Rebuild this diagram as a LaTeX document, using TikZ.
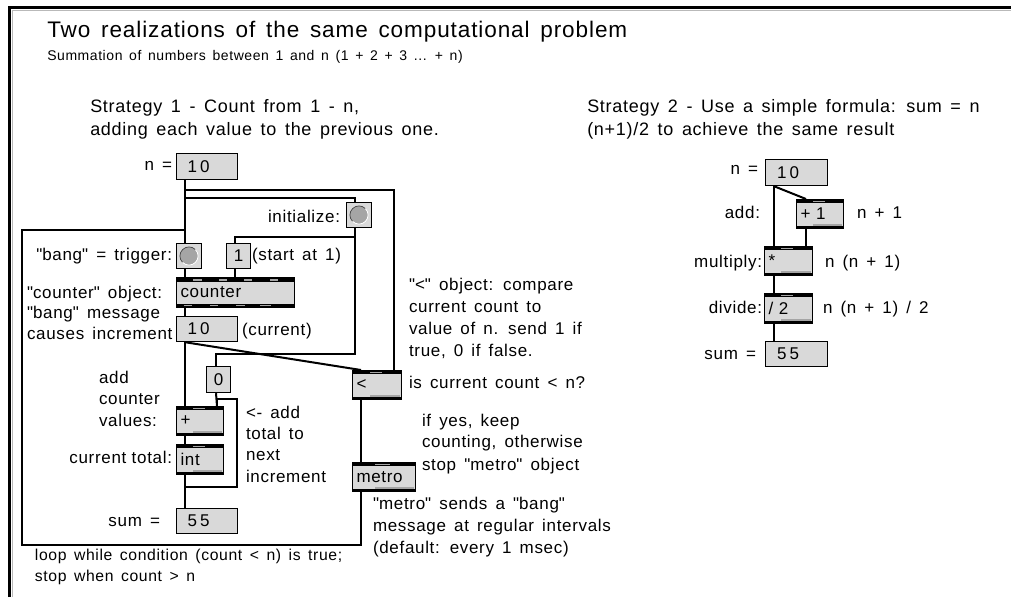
\documentclass[tikz,border=0pt]{standalone}
\usepackage{fontspec}
\setmainfont{Liberation Sans}[LetterSpace=4, WordSpace=1.5]
\newfontfamily\numfam{Liberation Sans}[LetterSpace=18]
\usetikzlibrary{calc}
\definecolor{boxgray}{RGB}{217,217,217}
\definecolor{markgray}{RGB}{165,165,165}
\newcommand\q{\textquotedbl}
\newcommand\labfont{\fontsize{12.75pt}{15.75pt}\selectfont}
\newcommand\looptextfont{\fontsize{11.8pt}{15pt}\selectfont}
\newcommand\titlefont{\fontsize{16.9pt}{20pt}\selectfont}
\newcommand\subfont{\fontsize{10.5pt}{13pt}\selectfont}
\newcommand\stratfont{\fontsize{13.5pt}{17pt}\selectfont}
\newcommand\numfont{\numfam\fontsize{12.75pt}{15pt}\selectfont}
\tikzset{
  lab/.style={font=\labfont, inner sep=0pt, outer sep=0pt},
  wire/.style={line width=1.5pt},
  numbox/.style={draw, line width=0.9pt, fill=boxgray, anchor=north west,
    inner xsep=8.25pt, inner ysep=0pt, text width=29.25pt, align=left, font=\numfont},
  msgbox/.style={draw, line width=0.9pt, fill=boxgray, anchor=north west,
    inner sep=0pt, minimum width=18pt, font=\labfont},
  bangbox/.style={draw, line width=0.75pt, fill=boxgray, anchor=north west,
    inner sep=0pt, minimum width=18.75pt, minimum height=18.75pt,
    path picture={
      \fill[markgray] (path picture bounding box.center) circle (6.8pt);
      \draw[black!70, line width=0.6pt] ([shift={(45:6.8pt)}]path picture bounding box.center) arc (45:225:6.8pt);
      \draw[white, line width=0.6pt] ([shift={(225:6.8pt)}]path picture bounding box.center) arc (225:405:6.8pt);
    }},
  objbox/.style={draw, line width=0.75pt, fill=boxgray, anchor=north west,
    inner xsep=3pt, inner ysep=0pt, align=left, font=\labfont,
    path picture={
      \coordinate (ppnw) at (path picture bounding box.north west);
      \coordinate (ppne) at (path picture bounding box.north east);
      \coordinate (ppsw) at (path picture bounding box.south west);
      \coordinate (ppse) at (path picture bounding box.south east);
      \fill[black] (ppnw) rectangle ($(ppne)+(0,3.2)$);
      \fill[black] (ppsw) rectangle ($(ppse)+(0,-3)$);
      \fill[markgray] ($(ppnw)!0.35!(ppne)+(0,1.2)$) rectangle ($(ppnw)!0.6!(ppne)+(0,2.6)$);
      \fill[markgray] ($(ppsw)!0.35!(ppse)+(0,-3)$) rectangle ($(ppsw)!0.97!(ppse)+(0,-4.5)$);
    }},
  ctrbox/.style={draw, line width=0.75pt, fill=boxgray, anchor=north west,
    inner xsep=3pt, inner ysep=0pt, align=left, font=\labfont,
    path picture={
      \coordinate (ppnw) at (path picture bounding box.north west);
      \coordinate (ppne) at (path picture bounding box.north east);
      \coordinate (ppsw) at (path picture bounding box.south west);
      \coordinate (ppse) at (path picture bounding box.south east);
      \fill[black] (ppnw) rectangle ($(ppne)+(0,4)$);
      \fill[black] (ppsw) rectangle ($(ppse)+(0,-4)$);
      \foreach \a/\b in {0.14/0.22,0.36/0.43,0.57/0.64,0.79/0.86}
        \fill[markgray] ($(ppnw)!\a!(ppne)+(0,1.5)$) rectangle ($(ppnw)!\b!(ppne)+(0,3)$);
      \foreach \a/\b in {0.06/0.13,0.28/0.35,0.5/0.58,0.71/0.8}
        \fill[markgray] ($(ppsw)!\a!(ppse)+(0,-1.2)$) rectangle ($(ppsw)!\b!(ppse)+(0,-2.6)$);
    }}
}
\begin{document}
\begin{tikzpicture}[x=0.75pt,y=-0.75pt]
\useasboundingbox (0,0) rectangle (1011,597);
\fill[white] (0,0) rectangle (1011,597);
% frame
\draw[gray!55, line width=0.75pt] (12.5,597) -- (12.5,10.5) -- (1011,10.5);
\draw[line width=2.4pt] (9.5,597) -- (9.5,7.6) -- (1011,7.6);

% headings
\node[anchor=base west, inner sep=0pt, font=\titlefont] (title) at (47,37) {Two realizations of the same computational problem};
\node[anchor=base west, inner sep=0pt, font=\subfont] (subtitle) at (47,60) {Summation of numbers between 1 and n (1 + 2 + 3 ... + n)};
\node[anchor=base west, inner sep=0pt, font=\stratfont] (s1a) at (90,112) {Strategy 1 - Count from 1 - n,};
\node[anchor=base west, inner sep=0pt, font=\stratfont] (s1b) at (90,135) {adding each value to the previous one.};
\node[anchor=base west, inner sep=0pt, font=\stratfont] (s2a) at (587,112) {Strategy 2 - Use a simple formula: sum = n};
\node[anchor=base west, inner sep=0pt, font=\stratfont] (s2b) at (587,135) {(n+1)/2 to achieve the same result};

% ---------- strategy 1 boxes
\node[numbox, minimum height=19.5pt] (n1) at (176,153) {10};
\node[bangbox] (init) at (346,202) {};
\node[bangbox] (trig) at (176,243) {};
\node[msgbox, minimum height=18.75pt] (msg1) at (226,243) {1};
\node[ctrbox, text width=82.5pt, minimum height=22.5pt] (counter) at (176,277) {counter};
\node[numbox, minimum height=18.75pt] (cur) at (176,316) {10};
\node[msgbox, minimum height=19.5pt] (msg0) at (206,366) {0};
\node[objbox, text width=29.25pt, minimum height=21.75pt] (plus) at (176,406) {+};
\node[objbox, text width=29.25pt, minimum height=22.5pt] (int) at (176,444) {int};
\node[numbox, minimum height=18.75pt] (sum1) at (176,508) {55};
\node[objbox, text width=30.75pt, minimum height=21.75pt] (lt) at (352,370) {<};
\node[objbox, text width=41.25pt, minimum height=21.75pt] (metro) at (352,462) {metro};

% ports
\coordinate (n1out) at ([xshift=6.75pt]n1.south west);
\coordinate (initin) at ([xshift=6.75pt]init.north west);
\coordinate (initout) at ([xshift=6.75pt]init.south west);
\coordinate (trigin) at ([xshift=6.75pt]trig.north west);
\coordinate (trigout) at ([xshift=6.75pt]trig.south west);
\coordinate (msg1in) at ([xshift=6.75pt]msg1.north west);
\coordinate (msg1out) at ([xshift=6.75pt]msg1.south west);
\coordinate (msg0in) at ([xshift=7.5pt]msg0.north west);
\coordinate (msg0out) at ([xshift=7.5pt]msg0.south west);
\coordinate (ctrout) at ([xshift=6.75pt]counter.south west);
\coordinate (curin) at ([xshift=6.75pt]cur.north west);
\coordinate (curout) at ([xshift=6.75pt]cur.south west);
\coordinate (plusin) at ([xshift=6.75pt]plus.north west);
\coordinate (plusR) at ([xshift=-5.25pt]plus.north east);
\coordinate (plusout) at ([xshift=6.75pt]plus.south west);
\coordinate (intin) at ([xshift=6.75pt]int.north west);
\coordinate (intout) at ([xshift=6.75pt]int.south west);
\coordinate (sum1in) at ([xshift=6.75pt]sum1.north west);
\coordinate (ltL) at ([xshift=6.75pt]lt.north west);
\coordinate (ltR) at ([xshift=-6pt]lt.north east);
\coordinate (ltout) at ([xshift=6.75pt]lt.south west);
\coordinate (metroin) at ([xshift=6.75pt]metro.north west);
\coordinate (metroout) at ([xshift=6.75pt]metro.south west);

% wires
\draw[wire] (n1out) -- (trigin);
\draw[wire] (n1out) -- ++(0,10) -| (ltR);
\draw[wire] (n1out) -- ++(0,18) -| (initin);
\draw[wire] (initout) -- ++(0,9) -| (msg1in);
\draw[wire] (initout) -- ++(0,126) -| (msg0in);
\draw[wire] (msg1out) -- (msg1out |- counter.north);
\draw[wire] (trigout) -- (trigout |- counter.north);
\draw[wire] (ctrout) -- (curin);
\draw[wire] (curout) -- (plusin);
\draw[wire] (curout) -- (ltL);
\draw[wire] (msg0out) -- (plusR);
\draw[wire] (plusout) -- (intin);
\draw[wire] (intout) -- (sum1in);
\draw[wire] (intout) -- ++(0,12) -- ++(52,0) -- ++(0,-88) -| (plusR);
\draw[wire] (ltout) -- (metroin);
\draw[wire] (metroout) -- ++(0,53) -| ++(-339,-315) -| (trigin);

% strategy 1 labels
\node[lab, anchor=base east] (neq1) at (172,170) {n =};
\node[lab, anchor=base east] (initlab) at (340,222) {initialize:};
\node[lab, anchor=base east] (banglab) at (172,260) {\q bang\q{} = trigger:};
\node[lab, anchor=base west] (startlab) at (252,260) {(start at 1)};
\node[lab, anchor=base west] (cl1) at (27,298) {\q counter\q{} object:};
\node[lab, anchor=base west] (cl2) at (27,318) {\q bang\q{} message};
\node[lab, anchor=base west] (cl3) at (27,339) {causes increment};
\node[lab, anchor=base west] (curlab) at (242,335) {(current)};
\node[lab, anchor=base west] (add1) at (99,383) {add};
\node[lab, anchor=base west] (add2) at (99,404) {counter};
\node[lab, anchor=base west] (add3) at (99,426) {values:};
\node[lab, anchor=base east] (ctot) at (172,463) {current\hspace{4pt}total:};
\node[lab, anchor=base east] (sumlab1) at (160,526) {sum =};
\node[lab, anchor=base west] (fb1) at (246,418) {<- add};
\node[lab, anchor=base west] (fb2) at (246,439) {total to};
\node[lab, anchor=base west] (fb3) at (246,460) {next};
\node[lab, anchor=base west] (fb4) at (246,482) {increment};
\node[lab, anchor=base west, font=\looptextfont] (loop1) at (35,560) {loop while condition (count < n) is true;};
\node[lab, anchor=base west, font=\looptextfont] (loop2) at (35,581) {stop when count > n};
\node[lab, anchor=base west] (lt1) at (409,290) {\q<\q{} object: compare};
\node[lab, anchor=base west] (lt2) at (409,312) {current count to};
\node[lab, anchor=base west] (lt3) at (409,334) {value of n. send 1 if};
\node[lab, anchor=base west] (lt4) at (409,356) {true, 0 if false.};
\node[lab, anchor=base west] (ltq) at (409,388) {is current count < n?};
\node[lab, anchor=base west] (ify1) at (422,426) {if yes, keep};
\node[lab, anchor=base west] (ify2) at (422,447) {counting, otherwise};
\node[lab, anchor=base west] (ify3) at (422,470) {stop \q metro\q{} object};
\node[lab, anchor=base west] (met1) at (373,509) {\q metro\q{} sends a \q bang\q};
\node[lab, anchor=base west] (met2) at (373,531) {message at regular intervals};
\node[lab, anchor=base west] (met3) at (373,553) {(default: every 1 msec)};

% ---------- strategy 2
\node[numbox, minimum height=19.5pt, inner xsep=8.6pt] (n2) at (765,159) {10};
\node[objbox, text width=29.25pt, minimum height=21.75pt] (p1) at (796,199) {+ 1};
\node[objbox, text width=30pt, minimum height=21.75pt] (mul) at (764,246) {*};
\node[objbox, text width=30pt, minimum height=22.5pt] (div) at (764,293) {/ 2};
\node[numbox, minimum height=18.75pt, inner xsep=8.6pt] (sum2) at (765,341) {55};

\coordinate (n2out) at ([xshift=6.75pt]n2.south west);
\coordinate (p1in) at ([xshift=7.5pt]p1.north west);
\coordinate (p1out) at ([xshift=7.5pt]p1.south west);
\coordinate (mulin) at ([xshift=7.5pt]mul.north west);
\coordinate (mulout) at ([xshift=7.5pt]mul.south west);
\coordinate (divin) at ([xshift=7.5pt]div.north west);
\coordinate (divout) at ([xshift=7.5pt]div.south west);
\coordinate (sum2in) at ([xshift=6.75pt]sum2.north west);

\draw[wire] (n2out) -- (mulin);
\draw[wire] (n2out) -- (p1in);
\draw[wire] (p1out) -- (p1out |- mul.north);
\draw[wire] (mulout) -- (divin);
\draw[wire] (divout) -- (sum2in);

\node[lab, anchor=base east] (neq2) at (758,174) {n =};
\node[lab, anchor=base east] (addl) at (760,218) {add:};
\node[lab, anchor=base west] (np1) at (857,218) {n + 1};
\node[lab, anchor=base east] (mull) at (762,267) {multiply:};
\node[lab, anchor=base west] (nn1) at (825,267) {n (n + 1)};
\node[lab, anchor=base east] (divl) at (762,313) {divide:};
\node[lab, anchor=base west] (nn2) at (823,313) {n (n + 1) / 2};
\node[lab, anchor=base east] (suml2) at (756,359) {sum =};
\end{tikzpicture}
\end{document}
